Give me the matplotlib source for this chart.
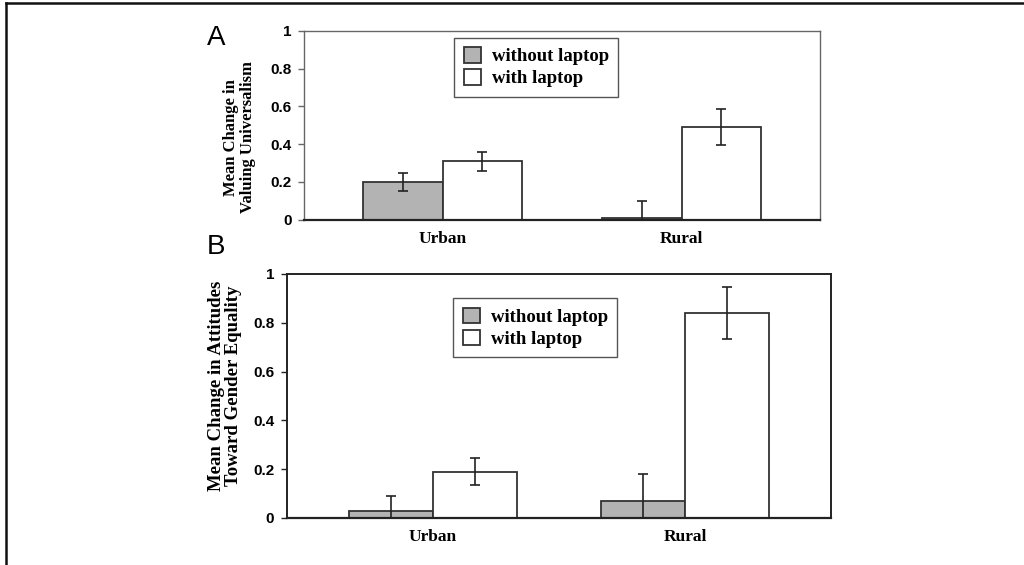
import matplotlib
matplotlib.use("Agg")
import matplotlib.pyplot as plt
from matplotlib.lines import Line2D
import numpy as np

# data
groups = ["Urban", "Rural"]
series = ["without laptop", "with laptop"]

# panel A: valuing universalism
a_without = [0.20, 0.01]
a_without_err = [0.05, 0.09]
a_with = [0.31, 0.49]
a_with_err = [0.05, 0.095]

# panel B: attitudes toward gender equality
b_without = [0.03, 0.07]
b_without_err = [0.06, 0.11]
b_with = [0.19, 0.84]
b_with_err = [0.055, 0.107]

yticks = [0, 0.2, 0.4, 0.6, 0.8, 1]
ytick_labels = ["0", "0.2", "0.4", "0.6", "0.8", "1"]

serif = "Liberation Serif"
sans = "Liberation Sans"

fig = plt.figure(figsize=(10.24, 5.65), dpi=100)
axA = fig.add_axes([0.297, 0.611, 0.504, 0.3345])
axB = fig.add_axes([0.280, 0.0832, 0.532, 0.432])


def draw_panel(ax, without, without_err, with_, with_err, spine_col, spine_w, leg_anchor):
    x = np.arange(len(groups))
    w = 0.333
    ax.bar(x - w / 2, without, w, color="#b3b3b3", edgecolor="#333333", linewidth=1.3,
           label=series[0], zorder=2)
    ax.bar(x + w / 2, with_, w, color="white", edgecolor="#333333", linewidth=1.3,
           label=series[1], zorder=2)
    ax.errorbar(x - w / 2, without, yerr=without_err, fmt="none", ecolor="#222222",
                elinewidth=1.2, capsize=3.5, capthick=1.2, zorder=3)
    ax.errorbar(x + w / 2, with_, yerr=with_err, fmt="none", ecolor="#222222",
                elinewidth=1.2, capsize=3.5, capthick=1.2, zorder=3)
    ax.set_xlim(-0.58, 1.58)
    ax.set_ylim(0, 1)
    ax.set_yticks(yticks)
    ax.set_yticklabels(ytick_labels, fontfamily=sans, fontweight="bold", fontsize=11)
    ax.set_xticks(x)
    ax.set_xticklabels(groups, fontfamily=serif, fontweight="bold", fontsize=12.5)
    ax.tick_params(axis="x", length=0, pad=8)
    ax.tick_params(axis="y", length=4, width=1, color=spine_col, pad=5)
    for s in ax.spines.values():
        s.set_color(spine_col)
        s.set_linewidth(spine_w)
    ax.spines["bottom"].set_color("#222222")
    ax.spines["bottom"].set_linewidth(1.6)
    leg = ax.legend(loc="upper left", bbox_to_anchor=leg_anchor, fancybox=False,
                    edgecolor="#555555", framealpha=1, borderpad=0.5, borderaxespad=0,
                    handlelength=0.9, handleheight=0.9, handletextpad=0.6,
                    labelspacing=0.2, prop={"family": serif, "weight": "bold", "size": 13.5})
    leg.get_frame().set_linewidth(1.0)


draw_panel(axA, a_without, a_without_err, a_with, a_with_err, "#666666", 1.0, (0.291, 0.963))
draw_panel(axB, b_without, b_without_err, b_with, b_with_err, "#222222", 1.4, (0.306, 0.90))

fig.text(0.234, 0.757, "Mean Change in\nValuing Universalism", rotation=90, ha="center",
         va="center", multialignment="center", fontfamily=serif, fontweight="bold",
         fontsize=12, linespacing=1.05)
fig.text(0.220, 0.318, "Mean Change in Attitudes\nToward Gender Equality", rotation=90,
         ha="center", va="center", multialignment="center", fontfamily=serif,
         fontweight="bold", fontsize=13.5, linespacing=1.0)

fig.text(0.211, 0.933, "A", ha="center", va="center", fontfamily=sans, fontsize=20)
fig.text(0.211, 0.563, "B", ha="center", va="center", fontfamily=sans, fontsize=20)

# page border (left and top only)
fig.add_artist(Line2D([0.0055, 0.0055], [0.0, 0.994], transform=fig.transFigure,
                      color="#111111", linewidth=1.8))
fig.add_artist(Line2D([0.0055, 1.0], [0.994, 0.994], transform=fig.transFigure,
                      color="#111111", linewidth=1.8))

fig.savefig("out.png", dpi=100)
